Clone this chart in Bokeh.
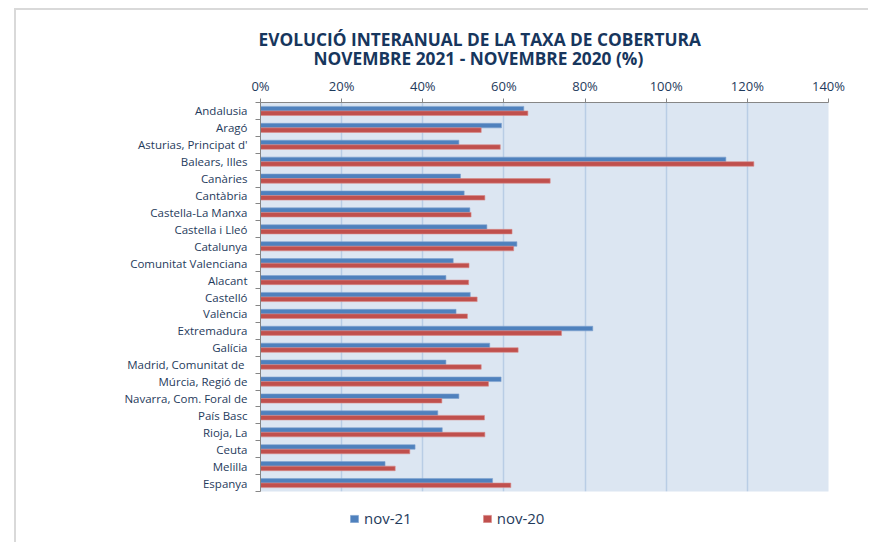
from bokeh.plotting import figure
from bokeh.models import (ColumnDataSource, FixedTicker, PrintfTickFormatter, Range1d,
                          Legend, LegendItem, Title)
from bokeh.transform import dodge
from bokeh.embed import file_html
from bokeh.resources import INLINE

regions = ["Andalusia", "Aragó", "Asturias, Principat d'", "Balears, Illes", "Canàries",
           "Cantàbria", "Castella-La Manxa", "Castella i Lleó", "Catalunya",
           "Comunitat Valenciana", "Alacant", "Castelló", "València", "Extremadura",
           "Galícia", "Madrid, Comunitat de ", "Múrcia, Regió de", "Navarra, Com. Foral de",
           "País Basc", "Rioja, La", "Ceuta", "Melilla", "Espanya"]
nov21 = [64.9, 59.4, 48.9, 114.7, 49.3, 50.2, 51.6, 55.8, 63.2, 47.5, 45.7, 51.7, 48.2,
         81.9, 56.5, 45.7, 59.3, 48.9, 43.7, 44.8, 38.1, 30.7, 57.2]
nov20 = [65.9, 54.4, 59.1, 121.6, 71.4, 55.3, 51.9, 62.0, 62.4, 51.4, 51.3, 53.4, 51.0,
         74.2, 63.5, 54.4, 56.2, 44.7, 55.2, 55.3, 36.8, 33.2, 61.7]
x_ticks = [0, 20, 40, 60, 80, 100, 120, 140]
series_names = ["nov-21", "nov-20"]
title_lines = ["EVOLUCIÓ INTERANUAL DE LA TAXA DE COBERTURA",
               "NOVEMBRE 2021 - NOVEMBRE 2020 (%)"]

n = len(regions)
ypos = [n - 1 - i for i in range(n)]
src = ColumnDataSource(dict(y=ypos, nov21=nov21, nov20=nov20, region=regions))

TXT = "#1F3B5C"
FONT = "Open Sans"

p = figure(width=853, height=524, output_backend="svg", toolbar_location=None,
           x_range=Range1d(0, 140), y_range=Range1d(-0.5, n - 0.5),
           x_axis_location="above", min_border_left=244, min_border_top=92,
           min_border_right=40, min_border_bottom=43)
p.frame_width = 568
p.frame_height = 389
p.margin = (8, 0, 0, 14)
p.styles = {"border-top": "2px solid #D9D9D9", "border-left": "2px solid #D9D9D9"}
p.background_fill_color = "#DCE6F2"
p.border_fill_color = "white"
p.outline_line_color = None
p.title.visible = False

r1 = p.hbar(y=dodge("y", 0.135), right="nov21", left=0, height=0.27, source=src,
            fill_color="#4F81BD", line_color="#7FA3D0", line_width=0.6)
r2 = p.hbar(y=dodge("y", -0.135), right="nov20", left=0, height=0.27, source=src,
            fill_color="#C0504D", line_color="#D88A88", line_width=0.6)

# x axis (top)
xa = p.xaxis[0]
xa.ticker = FixedTicker(ticks=x_ticks)
xa.formatter = PrintfTickFormatter(format="%d%%")
xa.axis_line_color = "#868686"
xa.major_tick_line_color = "#868686"
xa.major_tick_out = 4
xa.major_tick_in = 0
xa.minor_tick_line_color = None
xa.major_label_standoff = 4
xa.major_label_text_font = FONT
xa.major_label_text_font_size = "13px"
xa.major_label_text_color = TXT

# y axis (left) with ticks at category boundaries
ya = p.yaxis[0]
ya.ticker = FixedTicker(ticks=ypos, minor_ticks=[k - 0.5 for k in range(n + 1)])
ya.major_label_overrides = {yv: name for yv, name in zip(ypos, regions)}
ya.axis_line_color = "#868686"
ya.major_tick_line_color = None
ya.major_tick_out = 0
ya.major_tick_in = 0
ya.minor_tick_line_color = "#868686"
ya.minor_tick_out = 5
ya.minor_tick_in = 0
ya.major_label_standoff = 8
ya.major_label_text_font = FONT
ya.major_label_text_font_size = "11.5px"
ya.major_label_text_color = TXT

p.xgrid.ticker = FixedTicker(ticks=x_ticks)
p.xgrid.grid_line_color = "#B9CDE5"
p.xgrid.grid_line_width = 1.5
p.ygrid.grid_line_color = None

# two-line title above the axis
p.add_layout(Title(text=title_lines[1], align="left", offset=53, text_font=FONT,
                   text_font_style="bold", text_font_size="17.3px", text_color="#17365D",
                   standoff=8), "above")
p.add_layout(Title(text=title_lines[0], align="left", offset=-2, text_font=FONT,
                   text_font_style="bold", text_font_size="17.3px", text_color="#17365D",
                   standoff=-20), "above")

legend = Legend(items=[LegendItem(label=series_names[0], renderers=[r1]),
                       LegendItem(label=series_names[1], renderers=[r2])],
                orientation="horizontal", location="top_left",
                title=" ", title_location="left", title_text_font_size="1px",
                title_standoff=71,
                glyph_width=10, glyph_height=9, label_standoff=5, spacing=70,
                label_text_font=FONT, label_text_font_size="15px", label_text_color=TXT,
                background_fill_alpha=0, border_line_color=None, padding=0, margin=17)
p.add_layout(legend, "below")

open("out.html", "w").write(file_html(p, INLINE))
